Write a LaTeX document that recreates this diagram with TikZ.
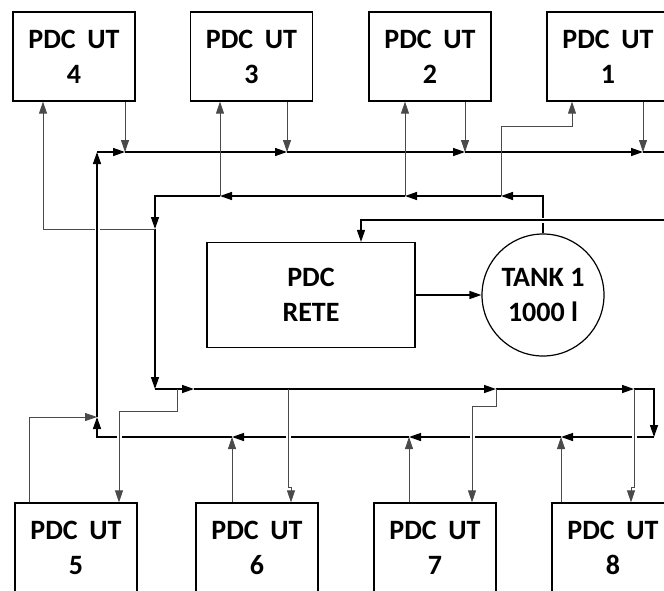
\documentclass[tikz,border=0pt]{standalone}
\usepackage{fontspec}
\setmainfont{Carlito}
\usepackage{xcolor}
\usepackage{tikz}
\usetikzlibrary{positioning, arrows.meta, calc}
\definecolor{linegray}{HTML}{4A4A4A}

\newcommand{\pdcut}[1]{PDC\hspace{0.42em}UT\\#1}

\tikzset{
  utbox/.style={draw, line width=1.2pt, minimum width=122pt, minimum height=89pt,
    inner sep=0pt, align=center, font=\fontsize{28}{35}\selectfont\bfseries},
  tankcirc/.style={draw, circle, line width=1.2pt, minimum size=122pt, inner sep=0pt,
    align=center, font=\fontsize{28}{35}\selectfont\bfseries},
  bus/.style={line width=1.4pt},
  branch/.style={line width=0.8pt, draw=linegray},
  tip/.style={-{Triangle[length=12pt,width=8pt]}},
  over/.style={preaction={draw=white, line width=5pt, -, shorten <=9pt, shorten >=9pt}},
}

\begin{document}
\begin{tikzpicture}[x=1pt, y=-1pt]
  \useasboundingbox (0,0) rectangle (664,590);

  % units
  \node[utbox] (ut4) at (74,56.5)  {\pdcut{4}};
  \node[utbox] (ut3) at (251.5,56.5) {\pdcut{3}};
  \node[utbox] (ut2) at (430,56.5) {\pdcut{2}};
  \node[utbox] (ut1) at (608,56.5) {\pdcut{1}};
  \node[utbox] (ut5) at (76,547.5)  {\pdcut{5}};
  \node[utbox] (ut6) at (257,547.5) {\pdcut{6}};
  \node[utbox] (ut7) at (435,547.5) {\pdcut{7}};
  \node[utbox] (ut8) at (613,547.5) {\pdcut{8}};
  \node[utbox, minimum width=208pt, minimum height=105pt] (rete) at (311,295) {PDC\\RETE};
  \node[tankcirc] (tank) at (543,295) {TANK 1\\1000 l};

  % junctions
  \coordinate (tl) at (97,152);  \coordinate (t4) at (125,152);
  \coordinate (t3) at (287,152); \coordinate (t2) at (465,152);
  \coordinate (t1) at (643,152); \coordinate (tr) at (664,152);
  \coordinate (sr) at (tank.north |- 0,196); \coordinate (s1) at (501,196);
  \coordinate (s2) at (405,196); \coordinate (s3) at (220,196);
  \coordinate (sl) at (155,196); \coordinate (sk) at (155,229);
  \coordinate (u4c) at (43,229);
  \coordinate (u1a) at (501,126); \coordinate (u1b) at (572,126);
  \coordinate (fr) at (664,220); \coordinate (fl) at (361,220);
  \coordinate (ml) at (155,389); \coordinate (m5) at (177,389);
  \coordinate (ma) at (194,389); \coordinate (m6) at (288,389);
  \coordinate (m7) at (496,389); \coordinate (m8) at (634,389);
  \coordinate (mr) at (654,389);
  \coordinate (br) at (654,437); \coordinate (b8) at (561,437);
  \coordinate (b7) at (409,437); \coordinate (b6) at (232,437);
  \coordinate (bl) at (97,437);  \coordinate (b5) at (97,417);
  \coordinate (u5c) at (29,417);
  \coordinate (d5a) at (177,411); \coordinate (d5b) at (119,411);
  \coordinate (d6a) at (288,487); \coordinate (d6b) at (291,487);
  \coordinate (d7a) at (496,406); \coordinate (d7b) at (472,406);
  \coordinate (d8a) at (634,487); \coordinate (d8b) at (631,487);

  % upper outputs
  \draw[branch, tip] (ut4.south -| t4) -- (t4);
  \draw[branch, tip] (ut3.south -| t3) -- (t3);
  \draw[branch, tip] (ut2.south -| t2) -- (t2);
  \draw[branch, tip] (ut1.south -| t1) -- (t1);
  \draw[bus, tip] (tl) -- (t4);
  \draw[bus, tip] (t4) -- (t3);
  \draw[bus, tip] (t3) -- (t2);
  \draw[bus, tip] (t2) -- (t1);
  \draw[bus] (t1) -- (tr);

  % return from tank
  \draw[bus, tip] (tank.north) -- (sr) -- (s1);
  \draw[bus, tip] (s1) -- (s2);
  \draw[bus, tip] (s2) -- (s3);
  \draw[bus, tip] (s3) -- (sl) -- (sk);
  \draw[bus, tip] (sk) -- (ml);
  \draw[branch, tip] (s3) -- (ut3.south -| s3);
  \draw[branch, tip] (s2) -- (ut2.south -| s2);
  \draw[branch, tip] (s1) -- (u1a) -- (u1b) -- (ut1.south -| u1b);
  \draw[branch, tip] (sk) -- (u4c) -- (ut4.south -| u4c);
  \draw[bus, tip, over] (fr) -- (fl) -- (rete.north -| fl);
  \draw[bus, tip] (rete) -- (tank);

  % lower ring
  \draw[bus, tip] (ml) -- (ma);
  \draw[bus, tip] (ma) -- (m7);
  \draw[bus, tip] (m7) -- (m8);
  \draw[bus, tip] (m8) -- (mr) -- (br);
  \draw[bus, tip] (br) -- (b8);
  \draw[bus, tip] (b8) -- (b7);
  \draw[bus, tip] (b7) -- (b6);
  \draw[bus, tip] (b6) -- (bl) -- (b5);
  \draw[bus, tip, over] (b5) -- (tl);
  \draw[branch, tip] (ut5.north -| u5c) -- (u5c) -- (b5);
  \draw[branch, tip] (ut6.north -| b6) -- (b6);
  \draw[branch, tip] (ut7.north -| b7) -- (b7);
  \draw[branch, tip] (ut8.north -| b8) -- (b8);
  \draw[branch, tip, over] (m5) -- (d5a) -- (d5b) -- (ut5.north -| d5b);
  \draw[branch, tip, over] (m6) -- (d6a) -- (d6b) -- (ut6.north -| d6b);
  \draw[branch, tip, over] (m7) -- (d7a) -- (d7b) -- (ut7.north -| d7b);
  \draw[branch, tip, over] (m8) -- (d8a) -- (d8b) -- (ut8.north -| d8b);
\end{tikzpicture}
\end{document}
